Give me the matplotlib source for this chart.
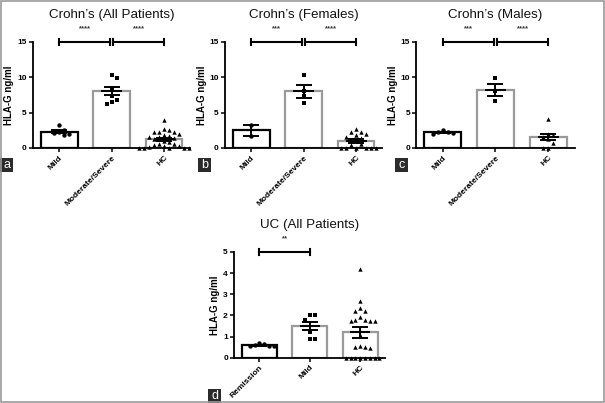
#!/usr/bin/env python3
"""HLA-G levels in Crohn's and UC patient groups (bar + scatter panels)."""

import matplotlib

matplotlib.use("Agg")

import matplotlib.pyplot as plt
import numpy as np
from matplotlib.patches import Rectangle

# ---- data -----------------------------------------------------------------
cd_groups = ["Mild", "Moderate/Severe", "HC"]
uc_groups = ["Remission", "Mild", "HC"]

# (a) Crohn's, all patients
cd_all_mild = [3.3, 2.6, 2.3, 2.1, 1.8, 1.9]
cd_all_mod = [10.3, 9.9, 8.4, 7.4, 6.8, 6.2, 6.5]
cd_all_hc = [4.0, 2.7, 2.5, 2.3, 2.2, 2.3, 2.0, 1.8, 1.7, 1.6, 1.5, 1.4, 1.2,
             1.0, 0.8, 0.6, 0.5, 0.4, 0.3, 0.2, 0.1, 0.0, 0.0, 0.0, 0.0, 0.0]
cd_all_mean = [2.3, 8.1, 1.2]
cd_all_sem = [0.25, 0.55, 0.22]

# (b) Crohn's, females
cd_f_mild = [3.3, 1.7]
cd_f_mod = [10.3, 8.1, 7.3, 6.3]
cd_f_hc = [2.7, 2.3, 2.2, 2.0, 1.8, 1.6, 1.4, 1.0, 0.5, 0.4, 0.0, 0.0, 0.0,
           0.0, 0.0, 0.0]
cd_f_mean = [2.5, 8.0, 1.0]
cd_f_sem = [0.8, 0.9, 0.25]

# (c) Crohn's, males
cd_m_mild = [2.5, 2.3, 2.2, 2.1, 2.0]
cd_m_mod = [9.9, 8.0, 6.7]
cd_m_hc = [4.1, 2.0, 1.8, 1.6, 1.2, 0.7, 0.0, 0.0]
cd_m_mean = [2.2, 8.2, 1.5]
cd_m_sem = [0.1, 0.9, 0.4]

# (d) UC, all patients
uc_rem = [0.65, 0.55, 0.55, 0.55, 0.6, 0.7]
uc_mild = [2.0, 2.0, 1.8, 1.2, 0.9, 0.9]
uc_hc = [4.2, 2.7, 2.35, 2.2, 2.2, 1.95, 1.8, 1.75, 1.75, 1.8, 1.75, 1.1,
         0.5, 0.45, 0.5, 0.55, 0.0, 0.0, 0.0, 0.0, 0.0, 0.0, 0.0, 0.0]
uc_mean = [0.6, 1.5, 1.2]
uc_sem = [0.03, 0.2, 0.25]

TEXT = "#111111"
GREY_EDGE = "#9a9a9a"
MARKERS = ["o", "s", "^"]

plt.rcParams.update({"font.family": "Liberation Sans", "font.size": 6})


def swarm(vals, px_x, px_y, gap=5.0):
    """Simple column-scatter layout: returns x offsets (data units)."""
    vals = np.asarray(vals, dtype=float)
    order = np.argsort(-vals)
    placed = []
    offs = np.zeros(len(vals))
    step = gap / px_x
    for i in order:
        y = vals[i]
        for k in range(0, 40):
            cand = 0.0 if k == 0 else ((k + 1) // 2) * step * (1 if k % 2 else -1)
            ok = True
            for (ox, oy) in placed:
                dx = (cand - ox) * px_x
                dy = (y - oy) * px_y
                if dx * dx + dy * dy < gap * gap:
                    ok = False
                    break
            if ok:
                break
        offs[i] = cand
        placed.append((cand, y))
    return offs


def panel(ax, groups, points, means, sems, ymax, yticks, title, brackets, px_y):
    x = np.arange(len(groups))
    edges = ["black", GREY_EDGE, GREY_EDGE]
    ax.bar(x, means, width=0.7, color="white", edgecolor=edges, linewidth=1.6,
           zorder=1)
    for xi, vals, mk in zip(x, points, MARKERS):
        offs = swarm(vals, 52.5, px_y)
        ax.scatter(xi + offs, vals, marker=mk, s=10, color="black", zorder=3,
                   linewidths=0, clip_on=False)
    ax.errorbar(x, means, yerr=sems, fmt="none", ecolor="black", elinewidth=1.4,
                capsize=6, capthick=1.4, zorder=4)
    ax.hlines(means, x - 0.2, x + 0.2, color="black", linewidth=1.4, zorder=4)

    ax.set_xlim(-0.5, 2.5)
    ax.set_ylim(0, ymax)
    ax.set_yticks(yticks)
    ax.set_xticks(x)
    ax.set_xticklabels(groups, rotation=45, ha="right", rotation_mode="anchor",
                       fontweight="bold", fontsize=5.5)
    for s in ("top", "right"):
        ax.spines[s].set_visible(False)
    for s in ("left", "bottom"):
        ax.spines[s].set_linewidth(1.3)
    ax.tick_params(axis="both", width=1.1, length=3, pad=1.5, labelsize=6)
    for lab in ax.get_yticklabels():
        lab.set_fontweight("bold")
    ax.set_ylabel("HLA-G ng/ml", fontsize=7, fontweight="bold", labelpad=2)
    ax.set_title(title, fontsize=9.6, pad=17, color=TEXT)

    # significance brackets
    for x0, x1, stars in brackets:
        ax.plot([x0, x1], [ymax, ymax], color="black", lw=1.5, clip_on=False)
        for xe in (x0, x1):
            ax.plot([xe, xe], [ymax * 0.975, ymax * 1.025], color="black",
                    lw=1.5, clip_on=False)
        ax.text((x0 + x1) / 2, ymax * 1.11, stars, ha="center", va="baseline",
                fontsize=5.5, fontweight="bold", color="#333333")


fig = plt.figure(figsize=(6.05, 4.03), dpi=100, facecolor="white")

ax_a = fig.add_axes([0.0545, 0.633, 0.26, 0.263])
ax_b = fig.add_axes([0.372, 0.633, 0.26, 0.263])
ax_c = fig.add_axes([0.688, 0.633, 0.262, 0.263])
ax_d = fig.add_axes([0.387, 0.112, 0.25, 0.263])

panel(ax_a, cd_groups, [cd_all_mild, cd_all_mod, cd_all_hc], cd_all_mean,
      cd_all_sem, 15, [0, 5, 10, 15], "Crohn\u2019s (All Patients)",
      [(0.0, 0.97, "****"), (1.03, 2.0, "****")], 7.07)
panel(ax_b, cd_groups, [cd_f_mild, cd_f_mod, cd_f_hc], cd_f_mean, cd_f_sem,
      15, [0, 5, 10, 15], "Crohn\u2019s (Females)",
      [(0.0, 0.97, "***"), (1.03, 2.0, "****")], 7.07)
panel(ax_c, cd_groups, [cd_m_mild, cd_m_mod, cd_m_hc], cd_m_mean, cd_m_sem,
      15, [0, 5, 10, 15], "Crohn\u2019s (Males)",
      [(0.0, 0.97, "***"), (1.03, 2.0, "****")], 7.07)
panel(ax_d, uc_groups, [uc_rem, uc_mild, uc_hc], uc_mean, uc_sem,
      5, [0, 1, 2, 3, 4, 5], "UC (All Patients)", [(0.0, 1.0, "**")], 21.2)

# panel letters
for lx, ly, letter in [(0.0, 0.573, "a"), (0.327, 0.573, "b"),
                       (0.653, 0.573, "c"), (0.344, 0.0, "d")]:
    fig.add_artist(Rectangle((lx, ly), 0.022, 0.034, transform=fig.transFigure,
                             facecolor="#2b2b2b", edgecolor="none"))
    fig.text(lx + 0.011, ly + 0.017, letter, color="white", fontsize=9,
             ha="center", va="center")

# outer grey frame
fig.add_artist(Rectangle((0.001, 0.002), 0.997, 0.996, transform=fig.transFigure,
                         facecolor="none", edgecolor="#9a9a9a", linewidth=1.2))

fig.savefig("out.png", dpi=100, facecolor="white")
